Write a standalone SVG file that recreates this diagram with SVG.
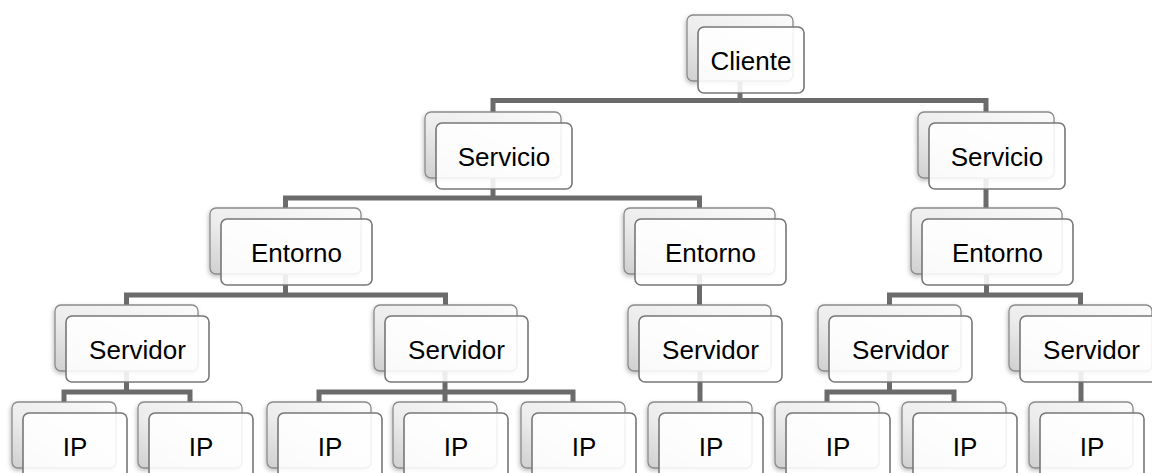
<svg xmlns="http://www.w3.org/2000/svg" width="1152" height="473" viewBox="0 0 1152 473">
<defs>
<linearGradient id="bg" x1="1" y1="0" x2="0" y2="1">
<stop offset="0" stop-color="#fbfbfb"/>
<stop offset="0.6" stop-color="#ececec"/>
<stop offset="1" stop-color="#cfcfcf"/>
</linearGradient>
<filter id="sh" x="-10%" y="-10%" width="120%" height="130%">
<feDropShadow dx="-1" dy="2" stdDeviation="2" flood-color="#000" flood-opacity="0.25"/>
</filter>
<style>
.back{fill:url(#bg);stroke:#8a8a8a;stroke-width:1.3;filter:url(#sh)}
.front{fill:#fff;fill-opacity:0.88;stroke:#777;stroke-width:1.6}
.t{font-family:"Liberation Sans",Arial,sans-serif;font-size:26px;fill:#000;text-anchor:middle}
.c{fill:none;stroke:#6b6b6b;stroke-width:5;stroke-linejoin:miter}
</style>
</defs>
<rect width="1152" height="473" fill="#fff"/>
<g id="connectors" class="c">
<path class="c" d="M740 60 V100.5"/>
<path class="c" d="M493 112 V100.5 H986 V112"/>
<path class="c" d="M493 150 V198"/>
<path class="c" d="M285.5 208 V198 H699.5 V208"/>
<path class="c" d="M986 150 V208"/>
<path class="c" d="M285.5 250 V295"/>
<path class="c" d="M126.5 305 V295 H445.5 V305"/>
<path class="c" d="M699.5 250 V305"/>
<path class="c" d="M986.5 250 V295"/>
<path class="c" d="M889.5 305 V295 H1080.5 V305"/>
<path class="c" d="M126.5 350 V392"/>
<path class="c" d="M64 402 V392 H190 V402"/>
<path class="c" d="M445 350 V392"/>
<path class="c" d="M319 402 V392 H573 V402"/>
<path class="c" d="M445 392 V402"/>
<path class="c" d="M700 350 V402"/>
<path class="c" d="M889.5 350 V392"/>
<path class="c" d="M827 402 V392 H954 V402"/>
<path class="c" d="M1081 350 V402"/>
</g>
<g id="cliente"><rect class="back" x="687" y="15" width="106" height="66" rx="6"/><rect class="front" x="698" y="27" width="106" height="66" rx="6"/><text class="t" x="751" y="69.5">Cliente</text></g>
<g id="servicio1"><rect class="back" x="425" y="112" width="136" height="66" rx="6"/><rect class="front" x="436" y="123" width="136" height="66" rx="6"/><text class="t" x="504" y="165.5">Servicio</text></g>
<g id="servicio2"><rect class="back" x="918" y="112" width="136" height="66" rx="6"/><rect class="front" x="929" y="123" width="136" height="66" rx="6"/><text class="t" x="997" y="165.5">Servicio</text></g>
<g id="entorno1"><rect class="back" x="210" y="208" width="151" height="66" rx="6"/><rect class="front" x="221" y="219" width="151" height="66" rx="6"/><text class="t" x="296.5" y="261.5">Entorno</text></g>
<g id="entorno2"><rect class="back" x="624" y="208" width="151" height="66" rx="6"/><rect class="front" x="635" y="219" width="151" height="66" rx="6"/><text class="t" x="710.5" y="261.5">Entorno</text></g>
<g id="entorno3"><rect class="back" x="911" y="208" width="151" height="66" rx="6"/><rect class="front" x="922" y="219" width="151" height="66" rx="6"/><text class="t" x="997.5" y="261.5">Entorno</text></g>
<g id="servidor1"><rect class="back" x="55" y="305" width="143" height="66" rx="6"/><rect class="front" x="66" y="316" width="143" height="66" rx="6"/><text class="t" x="137.5" y="358.5">Servidor</text></g>
<g id="servidor2"><rect class="back" x="374" y="305" width="143" height="66" rx="6"/><rect class="front" x="385" y="316" width="143" height="66" rx="6"/><text class="t" x="456.5" y="358.5">Servidor</text></g>
<g id="servidor3"><rect class="back" x="628" y="305" width="143" height="66" rx="6"/><rect class="front" x="639" y="316" width="143" height="66" rx="6"/><text class="t" x="710.5" y="358.5">Servidor</text></g>
<g id="servidor4"><rect class="back" x="818" y="305" width="143" height="66" rx="6"/><rect class="front" x="829" y="316" width="143" height="66" rx="6"/><text class="t" x="900.5" y="358.5">Servidor</text></g>
<g id="servidor5"><rect class="back" x="1009" y="305" width="143" height="66" rx="6"/><rect class="front" x="1020" y="316" width="143" height="66" rx="6"/><text class="t" x="1091.5" y="358.5">Servidor</text></g>
<g id="ip1"><rect class="back" x="12" y="402" width="104" height="66" rx="6"/><rect class="front" x="23" y="413" width="104" height="66" rx="6"/><text class="t" x="75" y="455.5">IP</text></g>
<g id="ip2"><rect class="back" x="138" y="402" width="104" height="66" rx="6"/><rect class="front" x="149" y="413" width="104" height="66" rx="6"/><text class="t" x="201" y="455.5">IP</text></g>
<g id="ip3"><rect class="back" x="267" y="402" width="104" height="66" rx="6"/><rect class="front" x="278" y="413" width="104" height="66" rx="6"/><text class="t" x="330" y="455.5">IP</text></g>
<g id="ip4"><rect class="back" x="393" y="402" width="104" height="66" rx="6"/><rect class="front" x="404" y="413" width="104" height="66" rx="6"/><text class="t" x="456" y="455.5">IP</text></g>
<g id="ip5"><rect class="back" x="521" y="402" width="104" height="66" rx="6"/><rect class="front" x="532" y="413" width="104" height="66" rx="6"/><text class="t" x="584" y="455.5">IP</text></g>
<g id="ip6"><rect class="back" x="648" y="402" width="104" height="66" rx="6"/><rect class="front" x="659" y="413" width="104" height="66" rx="6"/><text class="t" x="711" y="455.5">IP</text></g>
<g id="ip7"><rect class="back" x="775" y="402" width="104" height="66" rx="6"/><rect class="front" x="786" y="413" width="104" height="66" rx="6"/><text class="t" x="838" y="455.5">IP</text></g>
<g id="ip8"><rect class="back" x="902" y="402" width="104" height="66" rx="6"/><rect class="front" x="913" y="413" width="104" height="66" rx="6"/><text class="t" x="965" y="455.5">IP</text></g>
<g id="ip9"><rect class="back" x="1029" y="402" width="104" height="66" rx="6"/><rect class="front" x="1040" y="413" width="104" height="66" rx="6"/><text class="t" x="1092" y="455.5">IP</text></g>
</svg>
